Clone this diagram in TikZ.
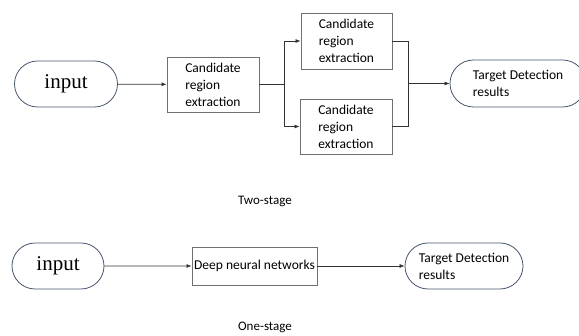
\documentclass[tikz,border=0pt]{standalone}
\usepackage{fontspec}
\setmainfont{Liberation Serif}
\newfontfamily\cali{Carlito}
\usetikzlibrary{shapes.misc,arrows.meta}

\definecolor{pillcol}{RGB}{72,86,110}
\definecolor{boxcol}{RGB}{112,112,112}
\definecolor{linecol}{RGB}{50,50,50}

\tikzset{
    pill/.style={rounded rectangle, draw=pillcol, line width=0.8pt, inner sep=0pt},
    stagebox/.style={rectangle, draw=boxcol, line width=0.9pt, inner sep=0pt, align=left, font=\cali\fontsize{13.5}{17}\selectfont},
    flow/.style={draw=linecol, line width=0.7pt},
    arr/.style={flow, -{Latex[length=5pt,width=4pt]}},
    caption/.style={font=\cali\fontsize{13}{15}\selectfont}
}

\begin{document}
\begin{tikzpicture}[x=1pt, y=-1pt]
    \useasboundingbox (0,0) rectangle (579,336);
    % two-stage row
    \node[pill, minimum width=103pt, minimum height=46pt, font=\fontsize{21}{24}\selectfont] (in1) at (66,84) {input};
    \node[stagebox, minimum width=92pt, minimum height=55pt] (ext1) at (213,84.5) {Candidate\\region\\extraction};
    \node[stagebox, minimum width=91pt, minimum height=56pt] (ext2) at (346.5,41) {Candidate\\region\\extraction};
    \node[stagebox, minimum width=92pt, minimum height=55pt] (ext3) at (346,126.5) {Candidate\\region\\extraction};
    \node[pill, minimum width=136pt, minimum height=47pt, align=left, font=\cali\fontsize{13.5}{17}\selectfont] (res1) at (518,83.5) {Target Detection\\results};
    \coordinate (split) at (284,84.5);
    \coordinate (merge) at (408,83.5);
    \draw[arr] (in1) -- (ext1);
    \draw[flow] (ext1) -- (split);
    \draw[arr] (split) |- (ext2.west);
    \draw[arr] (split) |- (ext3.west);
    \draw[flow] (ext2.east) -| (merge);
    \draw[flow] (ext3.east) -| (merge);
    \draw[arr] (merge) -- (res1);
    \node[caption] (cap1) at (265,201) {Two-stage};
    % one-stage row
    \node[pill, minimum width=92pt, minimum height=46pt, font=\fontsize{21}{24}\selectfont] (in2) at (58,266) {input};
    \node[stagebox, minimum width=125pt, minimum height=38pt] (dnn) at (254.5,266) {Deep neural networks};
    \node[pill, minimum width=118pt, minimum height=46pt, align=left, font=\cali\fontsize{13.5}{17}\selectfont] (res2) at (464,266) {Target Detection\\results};
    \draw[arr] (in2) -- (dnn);
    \draw[arr] (dnn) -- (res2);
    \node[caption] (cap2) at (265,327) {One-stage};
\end{tikzpicture}
\end{document}
